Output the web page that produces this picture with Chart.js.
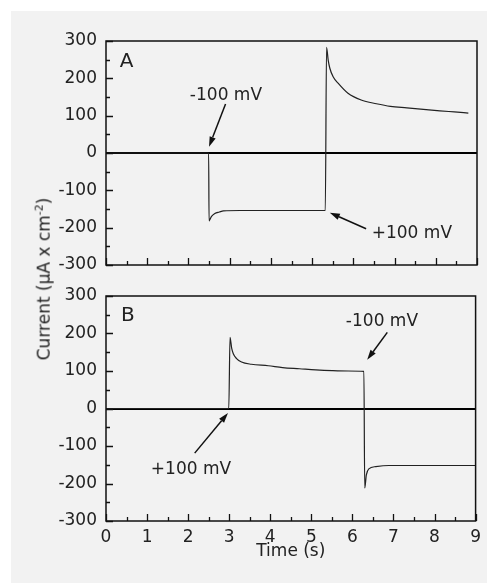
<!DOCTYPE html>
<html>
<head>
<meta charset="utf-8">
<script src="https://cdn.jsdelivr.net/npm/chart.js@4.4.1/dist/chart.umd.min.js"></script>
<style>
html,body{margin:0;padding:0;background:#fff;width:487px;height:583px;overflow:hidden;}
#bg{position:absolute;left:11px;top:11px;width:476px;height:572px;background:#f2f2f2;}
#wa{position:absolute;left:11px;top:11px;width:476px;height:274px;}
#wb{position:absolute;left:11px;top:276px;width:476px;height:307px;}
canvas{display:block;}
#ytitle{position:absolute;left:43px;top:279px;transform:translate(-50%,-50%) rotate(-90deg);font:17px "DejaVu Sans";color:#222;white-space:nowrap;}
#ytitle sup{font-size:11px;}
</style>
</head>
<body>
<div id="bg"></div>
<div id="wa"><canvas id="ca" width="476" height="274"></canvas></div>
<div id="wb"><canvas id="cb" width="476" height="307"></canvas></div>
<div id="ytitle">Current (µA x cm<sup>-2</sup>)</div>
<script>
// ---- data ----
const timeA = [0, 2.49, 2.50, 2.52, 2.56, 2.64, 2.75, 2.85, 3.25, 4.0, 5.0, 5.32, 5.35, 5.39, 5.43, 5.51, 5.63, 5.87, 6.19, 6.56, 6.90, 7.30, 7.70, 8.10, 8.45, 8.79];
const currentA = [0, 0, -182, -178, -170, -162, -158, -155, -154, -154, -154, -154, 283, 249, 227, 204, 187, 160, 142, 132, 125, 121, 117, 113, 110, 107];

const timeB = [0, 2.99, 3.02, 3.06, 3.10, 3.18, 3.30, 3.54, 3.95, 4.30, 4.71, 5.11, 5.51, 5.90, 6.28, 6.30, 6.34, 6.40, 6.57, 6.89, 7.5, 8.0, 9.0];
const currentB = [0, 0, 190, 161, 146, 133, 124, 118, 114, 109, 106, 103, 101, 100, 99, -212, -177, -161, -155, -152, -152, -152, -152];

const xTickRange = [0, 9];
const yTickRange = [-300, 300];
const xTitle = 'Time (s)';

// annotation texts and arrows (in data units)
const notesA = [
  {text: 'A', x: 0.50, y: 244, big: true},
  {text: '-100 mV', x: 2.91, y: 155},
  {text: '+100 mV', x: 7.42, y: -217}
];
const arrowsA = [[2.90, 131, 2.50, 17], [6.31, -203, 5.43, -160]];
const notesB = [
  {text: 'B', x: 0.53, y: 248, big: true},
  {text: '+100 mV', x: 2.07, y: -163},
  {text: '-100 mV', x: 6.72, y: 232}
];
const arrowsB = [[2.16, -119, 2.97, -12], [6.85, 203, 6.36, 130]];

Chart.defaults.font.family = 'DejaVu Sans';
Chart.defaults.color = '#222';

function drawArrow(ctx, x1, y1, x2, y2) {
  const ang = Math.atan2(y2 - y1, x2 - x1);
  const hl = 10, hw = 3.2;
  const bx = x2 - hl * Math.cos(ang), by = y2 - hl * Math.sin(ang);
  ctx.beginPath(); ctx.moveTo(x1, y1); ctx.lineTo(bx, by); ctx.lineWidth = 1.5; ctx.stroke();
  ctx.beginPath(); ctx.moveTo(x2, y2);
  ctx.lineTo(bx + hw * Math.sin(ang), by - hw * Math.cos(ang));
  ctx.lineTo(bx - hw * Math.sin(ang), by + hw * Math.cos(ang));
  ctx.closePath(); ctx.fill();
}

function framePlugin(notes, arrows) {
  return {
    id: 'frame',
    afterDatasetsDraw(chart) {
      const {ctx, chartArea: a} = chart;
      const x = chart.scales.x, y = chart.scales.y;
      ctx.save();
      ctx.strokeStyle = '#111';
      ctx.fillStyle = '#111';
      ctx.lineWidth = 1.5;
      ctx.strokeRect(a.left, a.top, a.right - a.left, a.bottom - a.top);
      ctx.lineWidth = 1.3;
      ctx.beginPath();
      for (let v = x.min; v <= x.max + 1e-9; v += 0.5) {
        const px = Math.round(x.getPixelForValue(v)) + 0.5;
        const len = Number.isInteger(v) ? 7 : 4;
        ctx.moveTo(px, a.bottom); ctx.lineTo(px, a.bottom - len);
      }
      for (let v = y.min; v <= y.max + 1e-9; v += 50) {
        const py = Math.round(y.getPixelForValue(v)) + 0.5;
        const len = (v % 100 === 0) ? 7 : 4;
        ctx.moveTo(a.left, py); ctx.lineTo(a.left + len, py);
      }
      ctx.stroke();
      arrows.forEach(r => drawArrow(ctx, x.getPixelForValue(r[0]), y.getPixelForValue(r[1]), x.getPixelForValue(r[2]), y.getPixelForValue(r[3])));
      ctx.fillStyle = '#222';
      ctx.textAlign = 'center';
      ctx.textBaseline = 'middle';
      notes.forEach(n => {
        ctx.font = (n.big ? 20 : 17) + 'px "DejaVu Sans"';
        ctx.fillText(n.text, x.getPixelForValue(n.x), y.getPixelForValue(n.y));
      });
      ctx.restore();
    }
  };
}

function makeChart(id, times, currents, notes, arrows, showX, padding) {
  const pts = times.map((t, i) => ({x: t, y: currents[i]}));
  return new Chart(document.getElementById(id), {
    type: 'line',
    data: {datasets: [{data: pts, borderColor: '#222', borderWidth: 1.2, pointRadius: 0, cubicInterpolationMode: 'monotone', fill: false}]},
    options: {
      responsive: false, animation: false, devicePixelRatio: 1,
      layout: {padding: padding},
      plugins: {legend: {display: false}, tooltip: {enabled: false}},
      scales: {
        x: {
          type: 'linear', min: xTickRange[0], max: xTickRange[1], display: true,
          ticks: {display: showX, stepSize: 1, padding: 6, font: {size: 17}, color: '#222', maxRotation: 0},
          grid: {display: false, drawTicks: false},
          border: {display: false},
          title: {display: showX, text: xTitle, font: {size: 17}, color: '#222', padding: {top: 0, bottom: 11}},
          afterFit: s => { s.height = showX ? 52 : 0; }
        },
        y: {
          min: yTickRange[0], max: yTickRange[1],
          ticks: {stepSize: 100, padding: 9, font: {size: 17}, color: '#222', callback: v => String(v)},
          grid: {color: c => (c.tick && c.tick.value === 0) ? '#000' : 'rgba(0,0,0,0)', lineWidth: 2, drawTicks: false},
          border: {display: false},
          afterFit: s => { s.width = 95; }
        }
      }
    },
    plugins: [framePlugin(notes, arrows)]
  });
}

makeChart('ca', timeA, currentA, notesA, arrowsA, false, {left: 0, right: 10, top: 30, bottom: 20});
makeChart('cb', timeB, currentB, notesB, arrowsB, true, {left: 0, right: 10, top: 20, bottom: 10});
</script>
</body>
</html>
